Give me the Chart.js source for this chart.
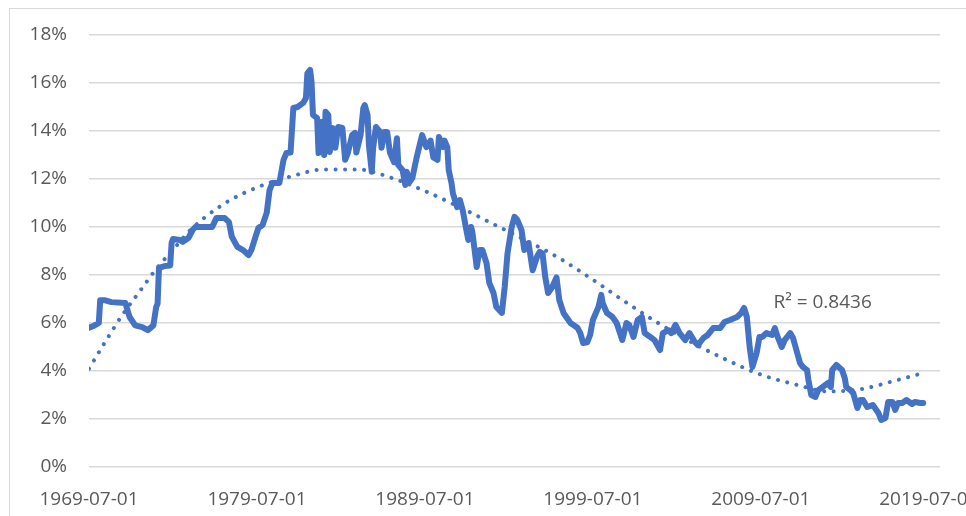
<!DOCTYPE html>
<html>
<head>
<meta charset="utf-8">
<script src="https://cdn.jsdelivr.net/npm/chart.js@4"></script>
<style>
  html, body { margin: 0; padding: 0; background: #ffffff; }
  #wrap { position: relative; width: 966px; height: 516px; }
</style>
</head>
<body>
<div id="wrap"><canvas id="c" width="966" height="516"></canvas></div>
<script>
// Months since 1969-07-01
const monthOffset = [0,4,7,8,11,16,26,29,33,38,42,46,48,49,50,54,58,59,60,65,67,71,74,76,88,91,97,100,102,106,110,114,116,119,121,124,127,129,131,136,139,141,144,146,149,153,155,156,158,159,160,163,164,166,168,169,171,172,174,176,178,181,183,185,188,190,191,194,196,197,199,200,202,203,205,208,209,211,213,215,218,220,221,224,226,227,229,231,234,238,241,244,246,249,250,253,254,256,257,259,260,263,265,267,270,271,273,274,277,279,281,284,286,289,291,295,297,299,302,304,306,309,311,314,317,320,322,324,326,328,331,334,336,339,344,349,351,353,356,358,360,364,366,367,370,374,377,381,384,386,389,392,395,397,401,404,408,410,414,416,419,422,426,429,433,435,439,442,446,451,454,458,463,466,468,470,472,474,477,479,481,484,488,490,492,495,497,501,503,506,508,510,513,514,516,519,521,524,528,530,531,534,538,540,541,544,546,549,551,553,556,560,564,566,569,571,574,576,578,581,584,588,590,594,596];
// Rate in %
const rate = [5.8,5.9,6.0,6.95,6.95,6.87,6.83,6.25,5.9,5.83,5.7,5.9,6.67,6.8,8.3,8.37,8.4,9.33,9.5,9.46,9.38,9.54,9.875,10.0,10.0,10.37,10.37,10.2,9.6,9.17,9.04,8.83,9.04,9.6,9.96,10.08,10.6,11.54,11.83,11.83,12.8,13.08,13.1,14.96,15.0,15.17,15.375,16.4,16.54,16.04,14.67,14.54,13.08,14.375,13.0,14.8,14.67,13.125,14.125,13.3,14.17,14.125,12.8,13.1,13.83,13.92,13.1,13.83,14.96,15.08,14.67,13.4,12.3,13.3,14.17,13.96,13.3,13.96,13.96,13.1,12.7,13.7,12.58,12.375,11.75,12.3,11.875,12.04,12.875,13.83,13.33,13.6,12.9,12.8,13.75,13.33,13.6,13.33,12.375,11.83,11.4,10.83,11.125,10.7,9.75,9.46,10.0,9.75,8.33,9.04,9.04,8.5,7.67,7.25,6.67,6.42,7.5,8.9,10.0,10.42,10.3,9.875,9.04,9.33,8.2,8.75,8.96,8.9,7.9,7.25,7.5,7.9,6.96,6.42,6.0,5.8,5.58,5.17,5.2,5.5,6.125,6.67,7.17,6.83,6.42,6.25,6.0,5.29,6.0,5.92,5.42,6.125,6.25,5.58,5.42,5.29,4.875,5.58,5.7,5.58,5.92,5.58,5.29,5.58,5.2,5.08,5.375,5.5,5.79,5.79,6.04,6.125,6.25,6.42,6.625,6.25,5.0,4.17,4.75,5.42,5.42,5.58,5.5,5.79,5.42,5.0,5.29,5.58,5.375,4.75,4.33,4.17,4.04,3.625,3.0,2.92,3.2,3.33,3.5,3.33,4.04,4.25,4.04,3.7,3.33,3.2,3.08,2.46,2.79,2.79,2.5,2.58,2.25,1.96,2.04,2.71,2.71,2.375,2.67,2.67,2.79,2.625,2.71,2.67,2.67];
// Polynomial trendline
const trendMonths = [0,12,24,36,48,60,72,96,120,144,168,192,216,240,264,288,312,336,360,384,408,432,456,480,504,528,552,576,595];
const trendRate = [4.1,5.25,6.35,7.3,8.25,9.05,9.85,10.95,11.65,12.1,12.4,12.4,12.05,11.5,10.85,10.15,9.45,8.7,7.8,6.85,5.95,5.15,4.45,3.85,3.45,3.15,3.25,3.6,3.9];
// Axis ticks
const xTickMonths = [0,120,240,360,480,600];
const xTickLabels = ["1969-07-01","1979-07-01","1989-07-01","1999-07-01","2009-07-01","2019-07-01"];
const yTicks = [0,2,4,6,8,10,12,14,16,18];
const r2Label = "R\u00B2 = 0.8436";
const r2At = { month: 489, value: 6.85 };

const BLUE = "#4472C4";
const TEXT = "#595959";
const FONT = "'Open Sans', 'Liberation Sans', sans-serif";

const frame = {
  id: 'frame',
  beforeDraw(chart) {
    const ctx = chart.ctx;
    ctx.save();
    ctx.fillStyle = '#ffffff';
    ctx.fillRect(0, 0, chart.width, chart.height);
    ctx.strokeStyle = '#d9d9d9';
    ctx.lineWidth = 1;
    ctx.strokeRect(9.5, 8.5, 1200, 800);
    ctx.restore();
  },
  afterDatasetsDraw(chart) {
    const ctx = chart.ctx;
    const xs = chart.scales.x, ys = chart.scales.y;
    ctx.save();
    ctx.fillStyle = TEXT;
    ctx.font = "19px " + FONT;
    ctx.textAlign = 'left';
    ctx.textBaseline = 'middle';
    ctx.fillText(r2Label, xs.getPixelForValue(r2At.month), ys.getPixelForValue(r2At.value));
    ctx.restore();
  }
};

new Chart(document.getElementById('c'), {
  type: 'line',
  data: {
    datasets: [
      {
        label: 'Trend',
        data: trendMonths.map((m, i) => ({ x: m, y: trendRate[i] })),
        borderColor: BLUE,
        borderWidth: 4,
        borderDash: [0.01, 9.5],
        borderCapStyle: 'round',
        pointRadius: 0,
        cubicInterpolationMode: 'monotone',
        fill: false,
        order: 0
      },
      {
        label: 'Rate',
        data: monthOffset.map((m, i) => ({ x: m, y: rate[i] })),
        borderColor: BLUE,
        borderWidth: 6,
        borderJoinStyle: 'round',
        borderCapStyle: 'round',
        pointRadius: 0,
        tension: 0,
        fill: false,
        order: 1
      }
    ]
  },
  options: {
    responsive: false,
    animation: false,
    devicePixelRatio: 1,
    layout: { padding: { left: 0, top: 35, right: 26, bottom: 0 } },
    plugins: { legend: { display: false }, tooltip: { enabled: false } },
    scales: {
      x: {
        type: 'linear',
        min: 0,
        max: 608,
        grid: { display: false },
        border: { display: false },
        afterBuildTicks(scale) { scale.ticks = xTickMonths.map(v => ({ value: v })); },
        afterFit(scale) { scale.height = 49; scale.paddingLeft = 0; scale.paddingRight = 0; },
        ticks: {
          autoSkip: false,
          maxRotation: 0,
          minRotation: 0,
          padding: 13,
          color: TEXT,
          font: { family: FONT, size: 19 },
          callback(v) { const i = xTickMonths.indexOf(v); return i >= 0 ? xTickLabels[i] : ''; }
        }
      },
      y: {
        min: 0,
        max: 18,
        afterBuildTicks(scale) { scale.ticks = yTicks.map(v => ({ value: v })); },
        afterFit(scale) { scale.width = 89; scale.paddingTop = 0; scale.paddingBottom = 0; },
        grid: { color: '#d9d9d9', lineWidth: 1.5, drawTicks: false },
        border: { display: false },
        ticks: {
          padding: 22,
          color: TEXT,
          font: { family: FONT, size: 19 },
          callback(v) { return v + '%'; }
        }
      }
    }
  },
  plugins: [frame]
});
</script>
</body>
</html>
